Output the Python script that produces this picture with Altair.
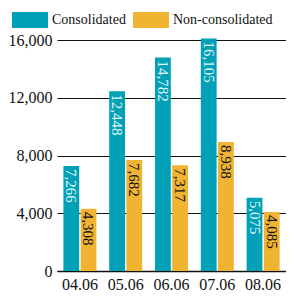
import altair as alt
import pandas as pd

periods = ["04.06", "05.06", "06.06", "07.06", "08.06"]
series_names = ["Consolidated", "Non-consolidated"]
consolidated = [7266, 12448, 14782, 16105, 5075]
non_consolidated = [4308, 7682, 7317, 8938, 4085]
y_ticks = [0, 4000, 8000, 12000, 16000]
bar_colors = ["#00A0B6", "#F0B332"]
label_colors = ["#E2F5F8", "#111111"]

rows = []
for p, c, n in zip(periods, consolidated, non_consolidated):
    rows.append({"period": p, "series": series_names[0], "value": c})
    rows.append({"period": p, "series": series_names[1], "value": n})
df = pd.DataFrame(rows)

FONT = "'Liberation Serif', 'Times New Roman', Times, serif"

base = alt.Chart(df).encode(
    x=alt.X(
        "period:N", sort=periods,
        scale=alt.Scale(paddingInner=0.28, paddingOuter=0.14),
        axis=alt.Axis(title=None, labelAngle=0, ticks=False, domain=True,
                      domainColor="#111111", domainWidth=1.5, labelFont=FONT,
                      labelFontSize=16, labelColor="#111111", labelPadding=5, grid=False),
    ),
    xOffset=alt.XOffset("series:N", sort=series_names, scale=alt.Scale(paddingInner=0.08)),
)

bars = base.mark_bar().encode(
    y=alt.Y(
        "value:Q",
        scale=alt.Scale(domain=[0, 16000], nice=False),
        axis=alt.Axis(title=None, values=y_ticks, format=",d", grid=True,
                      gridColor="#111111", gridWidth=1.2, domain=False, ticks=False,
                      labelFont=FONT, labelFontSize=16, labelColor="#111111", labelPadding=5),
    ),
    color=alt.Color(
        "series:N", sort=series_names,
        scale=alt.Scale(domain=series_names, range=bar_colors),
        legend=alt.Legend(
            title=None, orient="none", legendX=-45, legendY=-38, direction="horizontal",
            symbolType="M-1,-0.444L1,-0.444L1,0.444L-1,0.444Z", symbolSize=1296,
            symbolStrokeWidth=0, symbolOpacity=1, labelFont=FONT, labelFontSize=14,
            labelColor="#111111", labelOffset=4, columnPadding=7, padding=0,
        ),
    ),
)

labels = base.mark_text(angle=90, align="left", baseline="middle", dx=3,
                        font=FONT, fontSize=15).encode(
    y="value:Q",
    text=alt.Text("value:Q", format=",d"),
    color=alt.Color("series:N", sort=series_names,
                    scale=alt.Scale(domain=series_names, range=label_colors), legend=None),
)

chart = alt.layer(bars, labels).resolve_scale(color="independent").properties(
    width=229, height=231,
    autosize=alt.AutoSizeParams(type="none"),
    padding={"left": 49, "top": 32, "right": 0, "bottom": 25},
    background="white",
).configure_view(stroke=None)

chart.save("out.html", embed_options={"renderer": "svg", "actions": False})
